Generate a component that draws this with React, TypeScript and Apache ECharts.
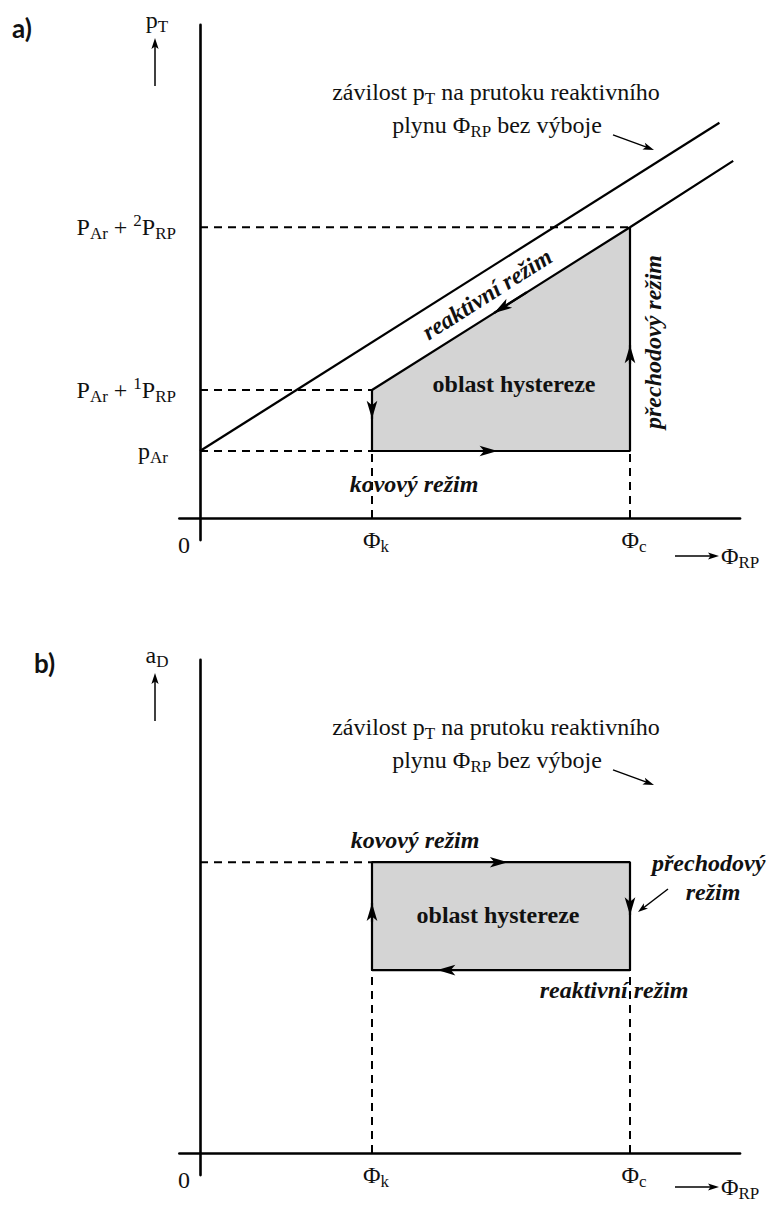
import React, { useEffect, useRef } from "react";
import * as echarts from "echarts";

// ---- flow axis Φ_RP (arbitrary units) ----
const PHI_K = 1.0; // Φk
const PHI_C = 2.5; // Φc
const X_RANGE = [-0.12, 3.14];
const Y_RANGE = [-0.33, 7.36];

// ---- a) target pressure p_T ----
const P_AR = 1.0; // p_Ar
const P_LEVEL1 = 1.91; // P_Ar + 1P_RP
const P_LEVEL2 = 4.34; // P_Ar + 2P_RP
const pressureNoDischarge = [
  [0, 1.0],
  [3.02, 5.9],
];
const pressureReactive = [
  [PHI_K, P_LEVEL1],
  [PHI_C, P_LEVEL2],
  [3.1, 5.33],
];
const pressureLoop = [
  [PHI_K, P_LEVEL1],
  [PHI_K, P_AR],
  [PHI_C, P_AR],
  [PHI_C, P_LEVEL2],
];
// direction marks along the loop: [from, to]
const pressureArrows = [
  [[1.5, 1.0], [1.73, 1.0]],
  [[2.5, 2.3], [2.5, 2.58]],
  [[1.9, 3.37], [1.71, 3.06]],
  [[1.0, 1.7], [1.0, 1.48]],
];

// ---- b) deposition rate a_D ----
const A_METAL = 4.34;
const A_REACTIVE = 2.73;
const rateLoop = [
  [PHI_K, A_REACTIVE],
  [PHI_K, A_METAL],
  [PHI_C, A_METAL],
  [PHI_C, A_REACTIVE],
  [PHI_K, A_REACTIVE],
];
const rateArrows = [
  [[1.5, 4.34], [1.79, 4.34]],
  [[2.5, 3.8], [2.5, 3.55]],
  [[1.7, 2.73], [1.38, 2.73]],
  [[1.0, 3.45], [1.0, 3.73]],
];

// ---- layout ----
const UX = 172; // px per flow unit
const UY = 67; // px per level unit
const X0 = 200; // pixel column of the vertical axis
const ORIGIN_Y = [518, 1153]; // pixel row of the horizontal axis, per panel

const SERIF = "Liberation Serif";
const INK = "#111";

const px = (v: number) => X0 + v * UX;
const py = (panel: number, v: number) => ORIGIN_Y[panel] - v * UY;

function gridFor(oy: number) {
  return {
    left: X0 + X_RANGE[0] * UX,
    top: oy - Y_RANGE[1] * UY,
    width: (X_RANGE[1] - X_RANGE[0]) * UX,
    height: (Y_RANGE[1] - Y_RANGE[0]) * UY,
  };
}

const RICH = {
  n: { fontSize: 24, fontFamily: SERIF, lineHeight: 30 },
  s: { fontSize: 17, fontFamily: SERIF, verticalAlign: "bottom" },
  u: { fontSize: 17, fontFamily: SERIF, verticalAlign: "top" },
};

type LabelOpts = {
  align?: string;
  rotation?: number;
  weight?: string;
  italic?: boolean;
  size?: number;
  family?: string;
};

function label(text: string, x: number, y: number, o: LabelOpts = {}) {
  const align = o.align ?? "center";
  return {
    type: "text",
    x,
    y,
    rotation: o.rotation ?? 0,
    z: 20,
    silent: true,
    style: {
      text,
      fill: INK,
      fontFamily: o.family ?? SERIF,
      fontSize: o.size ?? 24,
      fontWeight: o.weight ?? "normal",
      fontStyle: o.italic ? "italic" : "normal",
      align,
      textAlign: align,
      verticalAlign: "middle",
      textVerticalAlign: "middle",
      lineHeight: 30,
      rich: RICH,
    },
  };
}

function pointer(x1: number, y1: number, x2: number, y2: number, head = 11, half = 3.6) {
  const L = Math.hypot(x2 - x1, y2 - y1);
  const ux = (x2 - x1) / L;
  const uy = (y2 - y1) / L;
  const bx = x2 - ux * head;
  const by = y2 - uy * head;
  return [
    {
      type: "line",
      z: 20,
      silent: true,
      shape: { x1, y1, x2: bx + ux * 3, y2: by + uy * 3 },
      style: { stroke: "#000", lineWidth: 1.5 },
    },
    {
      type: "polygon",
      z: 20,
      silent: true,
      shape: {
        points: [
          [x2, y2],
          [bx - uy * half, by + ux * half],
          [bx + ux * 2.5, by + uy * 2.5],
          [bx + uy * half, by - ux * half],
        ],
      },
      style: { fill: "#000" },
    },
  ];
}

function solid(data: number[][], gi: number, z = 5) {
  return {
    type: "line",
    data,
    xAxisIndex: gi,
    yAxisIndex: gi,
    symbol: "none",
    silent: true,
    z,
    lineStyle: { color: "#000", width: 2.2 },
  };
}

function dashed(data: number[][], gi: number) {
  return {
    type: "line",
    data,
    xAxisIndex: gi,
    yAxisIndex: gi,
    symbol: "none",
    silent: true,
    z: 4,
    lineStyle: { color: "#000", width: 2, type: [8, 6] },
  };
}

function fill(top: number[][], base: number, gi: number) {
  return {
    type: "line",
    data: top,
    xAxisIndex: gi,
    yAxisIndex: gi,
    symbol: "none",
    silent: true,
    z: 2,
    lineStyle: { width: 0 },
    areaStyle: { color: "#d4d4d4", opacity: 1, origin: base },
  };
}

function arrowMarks(segs: number[][][], gi: number) {
  return {
    type: "lines",
    coordinateSystem: "cartesian2d",
    xAxisIndex: gi,
    yAxisIndex: gi,
    silent: true,
    z: 6,
    symbol: ["none", "arrow"],
    symbolSize: [0, [8, 18]],
    lineStyle: { color: "#000", width: 2.2, opacity: 1 },
    data: segs.map((c) => ({ coords: c })),
  };
}

function axisPair(kind: "x" | "y", gi: number) {
  const r = kind === "x" ? X_RANGE : Y_RANGE;
  return {
    type: "value",
    gridIndex: gi,
    min: r[0],
    max: r[1],
    axisLine: { show: true, onZero: true, lineStyle: { color: "#000", width: 2.6 } },
    axisTick: { show: false },
    axisLabel: { show: false },
    splitLine: { show: false },
  };
}

function panelTexts(panel: number, yName: string, tag: string, tagX: number, flowLabelDy: number) {
  const oy = ORIGIN_Y[panel];
  const top = oy - Y_RANGE[1] * UY;
  return [
    label(tag, tagX, top + 3, { family: "Lato", weight: "bold", size: 26, align: "left" }),
    label(yName, 157, top - 5),
    ...pointer(155, top + 61, 155, top + 13),
    label("{n|závilost p}{s|T}{n| na prutoku reaktivního}", 496, top + 67),
    label("{n|plynu Φ}{s|RP}{n| bez výboje}", 497, top + 100),
    ...pointer(613, top + 110, 654, top + 125),
    label("0", 184, oy + 27),
    label("{n|Φ}{s|k}", px(PHI_K) + 4, oy + 22),
    label("{n|Φ}{s|c}", px(PHI_C) + 4, oy + 22),
    label("{n|Φ}{s|RP}", 721, oy + flowLabelDy, { align: "left" }),
    ...pointer(675, oy + flowLabelDy, 719, oy + flowLabelDy),
  ];
}

const graphics = [
  // panel a
  ...panelTexts(0, "{n|p}{s|T}", "a)", 12, 38),
  label("{n|P}{s|Ar}{n| + }{u|2}{n|P}{s|RP}", 176, py(0, P_LEVEL2), { align: "right" }),
  label("{n|P}{s|Ar}{n| + }{u|1}{n|P}{s|RP}", 176, py(0, P_LEVEL1), { align: "right" }),
  label("{n|p}{s|Ar}", 168, py(0, P_AR), { align: "right" }),
  label("reaktivní režim", 487, 294, { weight: "bold", italic: true, rotation: (32.5 * Math.PI) / 180 }),
  label("oblast hystereze", 514, 384, { weight: "bold" }),
  label("přechodový režim", 653, 342, { weight: "bold", italic: true, rotation: Math.PI / 2 }),
  label("kovový režim", 414, 484, { weight: "bold", italic: true }),
  // panel b
  ...panelTexts(1, "{n|a}{s|D}", "b)", 34, 34),
  label("kovový režim", 415, 840, { weight: "bold", italic: true }),
  label("oblast hystereze", 498, 915, { weight: "bold" }),
  label("reaktivní režim", 614, 990, { weight: "bold", italic: true }),
  label("přechodový", 652, 863, { weight: "bold", italic: true, align: "left" }),
  label("režim", 713, 892, { weight: "bold", italic: true }),
  ...pointer(668, 889, 638, 912, 10, 3.4),
];

const option = {
  animation: false,
  backgroundColor: "#fff",
  grid: [gridFor(ORIGIN_Y[0]), gridFor(ORIGIN_Y[1])],
  xAxis: [axisPair("x", 0), axisPair("x", 1)],
  yAxis: [axisPair("y", 0), axisPair("y", 1)],
  series: [
    // a) target pressure
    fill([pressureReactive[0], pressureReactive[1]], P_AR, 0),
    dashed([[0, P_LEVEL2], [PHI_C, P_LEVEL2]], 0),
    dashed([[0, P_LEVEL1], [PHI_K, P_LEVEL1]], 0),
    dashed([[0, P_AR], [PHI_K, P_AR]], 0),
    dashed([[PHI_K, 0], [PHI_K, P_AR]], 0),
    dashed([[PHI_C, 0], [PHI_C, P_AR]], 0),
    solid(pressureNoDischarge, 0),
    solid(pressureReactive, 0),
    solid(pressureLoop, 0),
    arrowMarks(pressureArrows, 0),
    // b) deposition rate
    fill([rateLoop[1], rateLoop[2]], A_REACTIVE, 1),
    dashed([[0, A_METAL], [PHI_K, A_METAL]], 1),
    dashed([[PHI_K, 0], [PHI_K, A_REACTIVE]], 1),
    dashed([[PHI_C, 0], [PHI_C, A_REACTIVE]], 1),
    solid(rateLoop, 1),
    arrowMarks(rateArrows, 1),
  ],
  graphic: graphics,
};

export default function App() {
  const ref = useRef<HTMLDivElement>(null);
  useEffect(() => {
    if (!ref.current) return;
    const chart = echarts.init(ref.current, null, { renderer: "svg" });
    chart.setOption(option as any);
    return () => chart.dispose();
  }, []);
  return (
    <div
      ref={ref}
      style={{ position: "absolute", left: 0, top: 0, width: 769, height: 1205, background: "#fff" }}
    />
  );
}
